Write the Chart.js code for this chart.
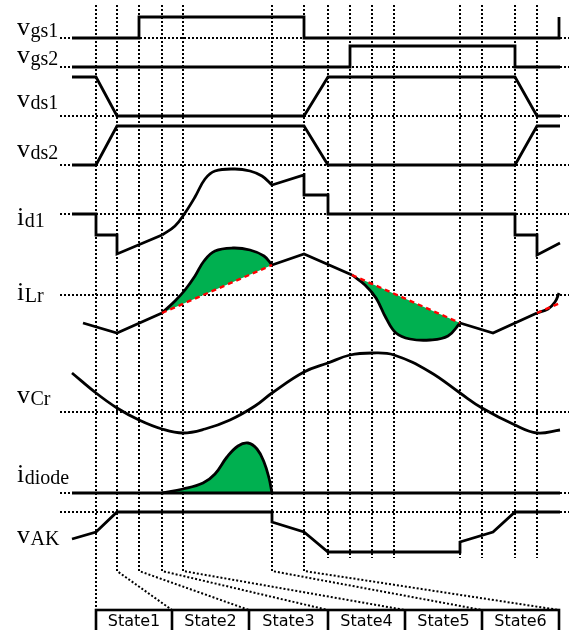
<!DOCTYPE html>
<html>
<head>
<meta charset="utf-8">
<script src="https://cdn.jsdelivr.net/npm/chart.js@4.4.1/dist/chart.umd.min.js"></script>
<style>
  html, body { margin: 0; padding: 0; background: #fff; }
  canvas { display: block; }
</style>
</head>
<body>
<canvas id="wave" width="569" height="630"></canvas>
<script>
// time instants where the converter changes state
const edges = [96, 117, 139, 162, 183, 272, 304, 328, 350, 372, 394, 460, 482, 515, 537];
// state table along the time axis
const stateLabels = ["State1", "State2", "State3", "State4", "State5", "State6"];
const stateCells = [96, 172, 249, 328, 405, 482, 559];
// reference level of every trace (dotted rows)
const levels = [38, 67, 116, 165, 214, 295, 412, 493, 512];

// signal names: symbol, subscript, baseline level
const names = [
  ["v", "gs1", 35], ["v", "gs2", 63], ["v", "ds1", 107], ["v", "ds2", 157],
  ["i", "d1", 225], ["i", "Lr", 300], ["v", "Cr", 403], ["i", "diode", 482], ["v", "AK", 543]
];

// gate and drain-source voltages
const vgs1 = [[72, 38], [139, 38], [139, 17], [304, 17], [304, 38], [559, 38], [559, 17]];
const vgs2 = [[72, 67], [350, 67], [350, 46], [515, 46], [515, 67], [560, 67]];
const vds1 = [[72, 77], [96, 77], [117, 116], [304, 116], [328, 77], [515, 77], [537, 116], [560, 116]];
const vds2 = [[72, 165], [96, 165], [117, 126], [304, 126], [328, 165], [515, 165], [537, 126], [560, 126]];

// switch current
const id1A = [[72, 214], [96, 214], [96, 235], [117, 235], [117, 254], [162, 235]];
const id1Curve = [[162, 235], [175, 226], [185, 213], [195, 197], [205, 179], [215, 171],
  [235, 169], [250, 171], [262, 176], [272, 185]];
const id1B = [[272, 185], [304, 175], [304, 195], [328, 195], [328, 214], [515, 214], [515, 235],
  [537, 235], [537, 255], [560, 243]];

// resonant inductor current
const iLrA = [[83, 323], [117, 333], [162, 313]];
const iLrHump = [[162, 313], [175, 301], [185, 290], [195, 276], [204, 261], [215, 251],
  [233, 248], [250, 250], [264, 256], [272, 265]];
const iLrB = [[272, 265], [304, 254], [352, 275]];
const iLrDip = [[352, 275], [365, 285], [376, 298], [386, 318], [396, 333], [410, 339],
  [430, 340], [448, 336], [460, 323]];
const iLrC = [[460, 323], [493, 333], [537, 313]];
const iLrEnd = [[537, 313], [548, 309], [555, 302], [559, 293]];
const iLrRef1 = [[162, 313], [272, 265]];
const iLrRef2 = [[352, 275], [460, 323]];
const iLrRef3 = [[537, 313], [560, 303]];

// resonant capacitor voltage
const vCr = [[72, 373], [96, 393], [117, 408], [139, 420], [162, 429], [183, 433], [205, 429],
  [230, 420], [255, 406], [272, 393], [304, 372], [328, 363], [350, 355], [372, 353], [394, 355],
  [430, 372], [460, 393], [482, 408], [515, 425], [537, 433], [560, 430]];

// diode current and voltage
const iDiodeBase = [[72, 493], [560, 493]];
const iDiode = [[162, 493], [183, 489], [203, 483], [215, 474], [227, 457], [238, 446],
  [248, 443], [257, 449], [264, 462], [269, 478], [272, 493]];
const vAK = [[72, 539], [96, 532], [117, 512], [272, 512], [272, 522], [304, 532], [328, 552],
  [460, 552], [460, 542], [493, 532], [515, 512], [560, 512]];

const GREEN = "#00b050";
const pts = arr => arr.map(([x, y]) => ({ x, y }));

const datasets = [];
function add(ds) { datasets.push(ds); return datasets.length - 1; }

function guide(arr) {
  return { data: pts(arr), borderColor: "#000", borderWidth: 2, borderDash: [2, 2],
           pointRadius: 0, showLine: true, fill: false, order: 5 };
}
function trace(arr, extra) {
  return Object.assign({ data: pts(arr), borderColor: "#000", borderWidth: 2.8, pointRadius: 0,
           showLine: true, fill: false, order: 1, borderJoinStyle: "miter" }, extra || {});
}
function curve(arr, extra) {
  return trace(arr, Object.assign({ tension: 0.4, borderJoinStyle: "round" }, extra || {}));
}
function refLine(arr) {
  return { data: pts(arr), borderColor: "#ff0000", borderWidth: 2.4, borderDash: [5, 4],
           pointRadius: 0, showLine: true, fill: false, order: 0 };
}

// dotted rows
levels.forEach(l => add(guide([[60, l], [569, l]])));
// dotted time markers, the first seven bend down to the state table
edges.forEach((e, i) => {
  if (i === 0) add(guide([[e, 5], [e, 610]]));
  else if (i < stateCells.length) add(guide([[e, 5], [e, 571], [stateCells[i], 610]]));
  else add(guide([[e, 5], [e, 558]]));
});

[vgs1, vgs2, vds1, vds2, id1A, id1B, iLrA, iLrB, iLrC, vAK, iDiodeBase].forEach(a => add(trace(a)));
add(curve(id1Curve));
add(curve(vCr));
add(curve(iLrEnd));

const r1 = add(refLine(iLrRef1));
add(curve(iLrHump, { fill: { target: r1 }, backgroundColor: GREEN }));
const r2 = add(refLine(iLrRef2));
add(curve(iLrDip, { fill: { target: r2 }, backgroundColor: GREEN }));
add(refLine(iLrRef3));
add(curve(iDiode, { fill: { target: { value: 493 } }, backgroundColor: GREEN }));

// signal names and the state table
const annotations = {
  id: "annotations",
  afterDraw(chart) {
    const { ctx, scales: { x, y } } = chart;
    ctx.save();
    ctx.fillStyle = "#000";
    ctx.textBaseline = "alphabetic";
    names.forEach(([sym, sub, base]) => {
      const px = x.getPixelForValue(17), py = y.getPixelForValue(base);
      ctx.font = "26px 'Liberation Serif'";
      ctx.textAlign = "left";
      ctx.fillText(sym, px, py);
      const w = ctx.measureText(sym).width;
      ctx.font = "20px 'Liberation Serif'";
      ctx.fillText(sub, px + w + 0.5, py + 2);
    });

    const top = y.getPixelForValue(610);
    const bottom = y.getPixelForValue(632);
    ctx.strokeStyle = "#000";
    ctx.lineWidth = 2.6;
    ctx.fillStyle = "#fff";
    const x0 = x.getPixelForValue(stateCells[0]);
    const x1 = x.getPixelForValue(stateCells[stateCells.length - 1]);
    ctx.fillRect(x0, top, x1 - x0, bottom - top);
    ctx.strokeRect(x0, top, x1 - x0, bottom - top);
    ctx.fillStyle = "#000";
    ctx.font = "16px 'DejaVu Sans'";
    ctx.textAlign = "center";
    stateLabels.forEach((lab, i) => {
      const a = x.getPixelForValue(stateCells[i]);
      const b = x.getPixelForValue(stateCells[i + 1]);
      if (i > 0) {
        ctx.beginPath();
        ctx.moveTo(a, top);
        ctx.lineTo(a, bottom);
        ctx.stroke();
      }
      ctx.fillText(lab, (a + b) / 2, y.getPixelForValue(626));
    });
    ctx.restore();
  }
};

new Chart(document.getElementById("wave"), {
  type: "scatter",
  data: { datasets },
  options: {
    responsive: false,
    animation: false,
    layout: { padding: 0 },
    scales: {
      x: { type: "linear", min: 0, max: 569, display: false },
      y: { type: "linear", min: 0, max: 630, reverse: true, display: false }
    },
    plugins: { legend: { display: false }, tooltip: { enabled: false } },
    elements: { point: { radius: 0 } }
  },
  plugins: [annotations]
});
</script>
</body>
</html>
